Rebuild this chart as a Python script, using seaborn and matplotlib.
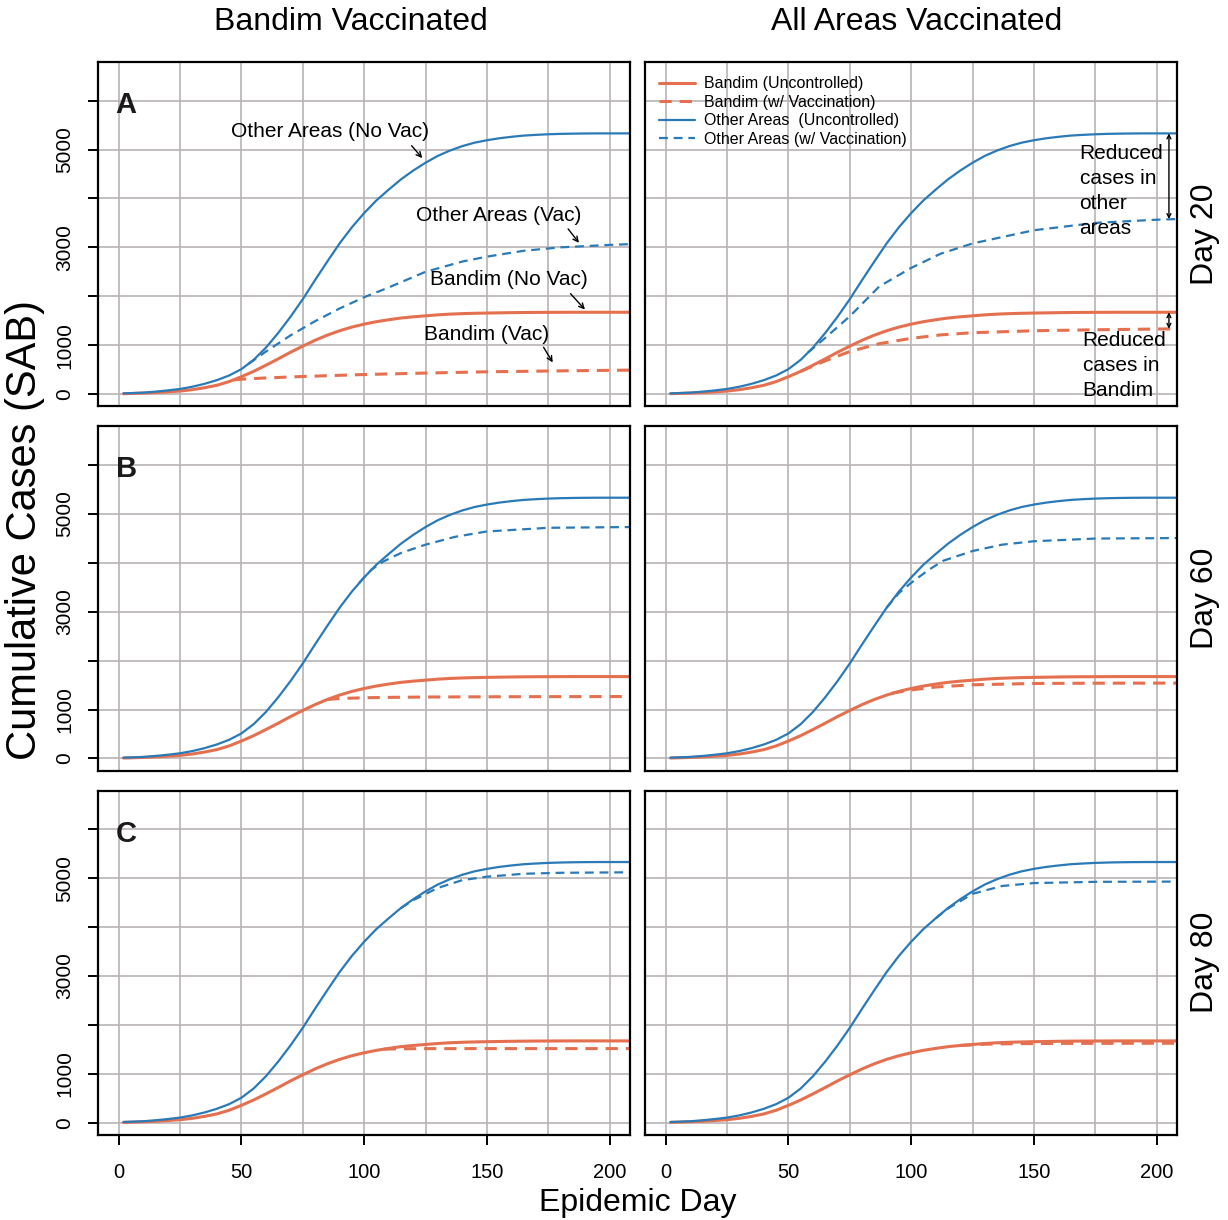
import matplotlib
matplotlib.use("Agg")
import matplotlib.pyplot as plt
from matplotlib.ticker import MultipleLocator
import seaborn as sns

ORANGE = "#E5704F"
BLUE = "#2A7AB8"

col_titles = ["Bandim Vaccinated", "All Areas Vaccinated"]
row_titles = ["Day 20", "Day 60", "Day 80"]
panel_letters = ["A", "B", "C"]
legend_labels = ["Bandim (Uncontrolled)", "Bandim (w/ Vaccination)",
                 "Other Areas  (Uncontrolled)", "Other Areas (w/ Vaccination)"]
x_ticks = [0, 50, 100, 150, 200]
y_ticks = [0, 1000, 2000, 3000, 4000, 5000, 6000]
y_tick_labels = ["0", "1000", "", "3000", "", "5000", ""]

# uncontrolled epidemics (same in every panel)
days = [2, 5, 10, 15, 20, 25, 30, 35, 40, 45, 50, 55, 60, 65, 70, 75, 80, 85, 90, 95,
        100, 105, 110, 115, 120, 125, 130, 135, 140, 145, 150, 155, 160, 165, 170, 175,
        180, 185, 190, 195, 200, 205, 208]
other_none = [15, 20, 30, 50, 75, 105, 150, 210, 285, 380, 510, 700, 950, 1250, 1580, 1940,
              2330, 2710, 3080, 3410, 3700, 3960, 4180, 4390, 4570, 4730, 4870, 4980, 5070,
              5140, 5190, 5230, 5260, 5285, 5300, 5312, 5320, 5325, 5328, 5330, 5330, 5330, 5330]
bandim_none = [8, 12, 20, 30, 45, 62, 90, 130, 180, 255, 355, 465, 590, 720, 855, 980, 1100,
               1205, 1295, 1370, 1430, 1480, 1520, 1555, 1580, 1600, 1620, 1635, 1645, 1652,
               1657, 1661, 1665, 1668, 1670, 1671, 1672, 1673, 1673, 1673, 1673, 1673, 1673]

# vaccination scenarios (bv = Bandim vaccinated, av = all areas vaccinated)
other_bv20_days = [53, 60, 70, 80, 90, 100, 110, 125, 140, 150, 165, 180, 200, 208]
other_bv20 = [620, 870, 1200, 1490, 1750, 1980, 2180, 2500, 2710, 2810, 2930, 3000, 3050, 3065]
bandim_bv20_days = [47, 50, 60, 75, 100, 125, 150, 175, 208]
bandim_bv20 = [290, 305, 330, 360, 400, 430, 456, 472, 490]

other_av20_days = [58, 65, 75, 87, 100, 112, 125, 150, 175, 200, 208]
other_av20 = [850, 1150, 1590, 2200, 2580, 2870, 3080, 3350, 3500, 3565, 3578]
bandim_av20_days = [55, 65, 75, 87, 100, 112, 125, 150, 175, 200, 208]
bandim_av20 = [465, 680, 870, 1030, 1140, 1210, 1255, 1295, 1315, 1330, 1335]

other_bv60_days = [98, 103, 108, 115, 125, 137, 150, 175, 208]
other_bv60 = [3590, 3860, 4030, 4200, 4370, 4530, 4640, 4715, 4730]
bandim_bv60_days = [85, 90, 100, 110, 125, 150, 175, 208]
bandim_bv60 = [1205, 1225, 1240, 1248, 1255, 1260, 1263, 1265]

other_av60_days = [90, 95, 100, 107, 113, 125, 137, 150, 175, 208]
other_av60 = [3080, 3380, 3590, 3850, 4040, 4240, 4370, 4440, 4495, 4505]
bandim_av60_days = [92, 100, 110, 125, 150, 175, 208]
bandim_av60 = [1330, 1400, 1460, 1505, 1532, 1538, 1540]

other_bv80_days = [115, 120, 130, 140, 150, 165, 180, 208]
other_bv80 = [4390, 4550, 4800, 4960, 5030, 5090, 5110, 5120]
bandim_bv80_days = [108, 115, 125, 150, 175, 208]
bandim_bv80 = [1505, 1512, 1515, 1516, 1516, 1516]

other_av80_days = [110, 115, 125, 137, 150, 175, 208]
other_av80 = [4180, 4380, 4680, 4840, 4900, 4925, 4930]
bandim_av80_days = [120, 130, 140, 160, 208]
bandim_av80 = [1580, 1605, 1615, 1622, 1625]

scenarios = [
    [((bandim_bv20_days, bandim_bv20), (other_bv20_days, other_bv20)),
     ((bandim_av20_days, bandim_av20), (other_av20_days, other_av20))],
    [((bandim_bv60_days, bandim_bv60), (other_bv60_days, other_bv60)),
     ((bandim_av60_days, bandim_av60), (other_av60_days, other_av60))],
    [((bandim_bv80_days, bandim_bv80), (other_bv80_days, other_bv80)),
     ((bandim_av80_days, bandim_av80), (other_av80_days, other_av80))],
]

# curve labels in panel A (left)
ann_text = ["Other Areas (No Vac)", "Other Areas (Vac)", "Bandim (No Vac)", "Bandim (Vac)"]
ann_text_xy = [(86, 5370), (155, 3660), (159, 2333), (150, 1211)]
ann_from = [(118.6, 5122), (182.4, 3422), (183.3, 2095), (172.5, 1007)]
ann_to = [(124.4, 4782), (188.2, 3048), (190.7, 1687), (177.4, 599)]

sns.set_theme(style="white")
plt.rcParams["font.family"] = ["Liberation Sans", "DejaVu Sans"]
plt.rcParams["text.color"] = "black"

fig, axes = plt.subplots(3, 2, figsize=(12.28, 12.2), dpi=100)
fig.subplots_adjust(left=0.0798, right=0.9585, top=0.9492, bottom=0.0697,
                    wspace=0.0282, hspace=0.058)

dash = (0, (4, 2.6))
for r in range(3):
    for c in range(2):
        ax = axes[r, c]
        (bd, bv), (od, ov) = scenarios[r][c]
        lab = legend_labels if (r == 0 and c == 1) else [None] * 4
        sns.lineplot(x=days, y=bandim_none, ax=ax, color=ORANGE, lw=2.2, label=lab[0], legend=False)
        sns.lineplot(x=bd, y=bv, ax=ax, color=ORANGE, lw=2.2, linestyle=dash, label=lab[1], legend=False)
        sns.lineplot(x=days, y=other_none, ax=ax, color=BLUE, lw=1.6, label=lab[2], legend=False)
        sns.lineplot(x=od, y=ov, ax=ax, color=BLUE, lw=1.6, linestyle=dash, label=lab[3], legend=False)

        ax.set_xlim(-8.4, 208.3)
        ax.set_ylim(-250, 6790)
        ax.set_xticks(x_ticks)
        ax.xaxis.set_minor_locator(MultipleLocator(25))
        ax.set_yticks(y_ticks)
        ax.grid(which="both", axis="x", color="#b9b3b5", lw=1.2)
        ax.grid(which="major", axis="y", color="#b9b3b5", lw=1.2)
        ax.set_axisbelow(True)
        ax.set_xlabel("")
        ax.set_ylabel("")
        for s in ax.spines.values():
            s.set_visible(True)
            s.set_color("black")
            s.set_linewidth(1.6)
        ax.tick_params(which="minor", length=0, bottom=False, left=False)
        ax.tick_params(axis="both", which="major", direction="out", length=7, width=1.4,
                       color="black", labelsize=15, labelcolor="black")
        ax.tick_params(axis="x", pad=13, labelsize=14.5)
        ax.tick_params(axis="y", pad=10)
        if c == 0:
            ax.tick_params(axis="y", which="major", left=True, labelleft=True)
            ax.set_yticklabels(y_tick_labels, rotation=90, va="center")
            ax.text(0.033, 0.875, panel_letters[r], transform=ax.transAxes,
                    fontsize=21, fontweight="bold", ha="left", va="center", color="#1a1a1a")
        else:
            ax.tick_params(axis="y", left=False, labelleft=False)
            ax.text(1 + 28 / 532, 0.5, row_titles[r], transform=ax.transAxes,
                    rotation=90, fontsize=23, ha="center", va="center")
        if r < 2:
            ax.tick_params(axis="x", bottom=False, labelbottom=False)
        else:
            ax.tick_params(axis="x", which="major", bottom=True, labelbottom=True)

# panel A left annotations
axA = axes[0, 0]
for t, txy, a0, a1 in zip(ann_text, ann_text_xy, ann_from, ann_to):
    axA.text(txy[0], txy[1], t, fontsize=15, ha="center", va="center")
    axA.annotate("", xy=a1, xytext=a0,
                 arrowprops=dict(arrowstyle="->", lw=1, color="black", mutation_scale=9))

# panel A right annotations
axR = axes[0, 1]
axR.legend(loc="upper left", frameon=False, fontsize=11.5, handlelength=2.2,
           labelspacing=0.22, handletextpad=0.6, borderaxespad=0.6, borderpad=0.3)
axR.annotate("", xy=(205, other_av20[-1]), xytext=(205, other_none[-1]),
             arrowprops=dict(arrowstyle="<->", lw=1, color="black", mutation_scale=7,
                             shrinkA=0, shrinkB=0))
axR.annotate("", xy=(205, bandim_av20[-1]), xytext=(205, bandim_none[-1]),
             arrowprops=dict(arrowstyle="<->", lw=1, color="black", mutation_scale=7,
                             shrinkA=0, shrinkB=0))
axR.text(168.6, 4150, "Reduced\ncases in\nother\nareas", fontsize=15, ha="left",
         va="center", linespacing=1.4)
axR.text(169.8, 590, "Reduced\ncases in\nBandim", fontsize=15, ha="left",
         va="center", linespacing=1.4)

fig.text(351 / 1228, 1 - 22 / 1220, col_titles[0], fontsize=23, ha="center", va="center")
fig.text(917 / 1228, 1 - 22 / 1220, col_titles[1], fontsize=23, ha="center", va="center")
fig.text(25 / 1228, 1 - 530 / 1220, "Cumulative Cases (SAB)", rotation=90,
         fontsize=30, ha="center", va="center")
fig.text(638 / 1228, 1 - 1203 / 1220, "Epidemic Day", fontsize=23, ha="center", va="center")

fig.savefig("out.png", dpi=100, facecolor="white")
